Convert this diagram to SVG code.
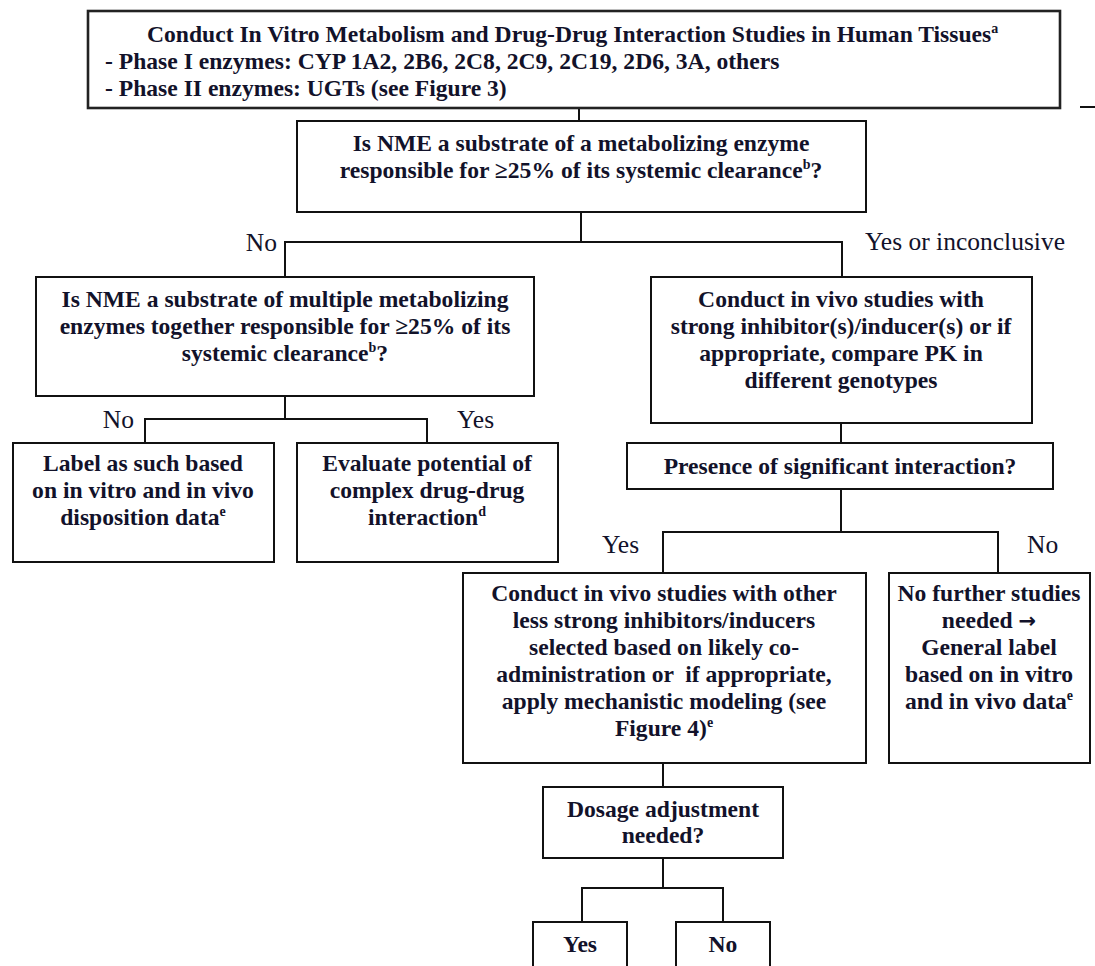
<svg xmlns="http://www.w3.org/2000/svg" width="1095" height="966" viewBox="0 0 1095 966">
<style>
text { font-family: "Liberation Serif", "Times New Roman", serif; font-size: 23.6px; fill: #12122a; }
.b { font-weight: bold; }
.c { text-anchor: middle; }
.lbl { font-size: 25.5px; }
.pre { white-space: pre; }
.arr { font-family: "DejaVu Sans", sans-serif; font-weight: bold; font-size: 21px; }
.box { fill: #fff; stroke: #111; stroke-width: 2; }
.box2 { fill: #fff; stroke: #222; stroke-width: 2.6; }
.conn { fill: none; stroke: #111; stroke-width: 2; }
.sup { font-size: 14px; }
</style>
<rect x="0" y="0" width="1095" height="966" fill="#fff"/>

<g id="connectors">
  <line class="conn" x1="1080" y1="107" x2="1095" y2="107"/>
  <line class="conn" x1="579" y1="108" x2="579" y2="121"/>
  <polyline class="conn" points="285,277 285,242 842,242 842,277"/>
  <line class="conn" x1="581" y1="212" x2="581" y2="242"/>
  <line class="conn" x1="285" y1="396" x2="285" y2="419"/>
  <polyline class="conn" points="145,443 145,419 427,419 427,443"/>
  <line class="conn" x1="841" y1="423" x2="841" y2="443"/>
  <line class="conn" x1="841" y1="489" x2="841" y2="532"/>
  <polyline class="conn" points="663,573 663,532 998,532 998,573"/>
  <line class="conn" x1="663" y1="763" x2="663" y2="787"/>
  <line class="conn" x1="663" y1="858" x2="663" y2="888"/>
  <polyline class="conn" points="582,922 582,888 723,888 723,922"/>
  <text class="lbl" x="277" y="251" text-anchor="end">No</text>
  <text class="lbl" x="865" y="250">Yes or inconclusive</text>
  <text class="lbl" x="134" y="428" text-anchor="end">No</text>
  <text class="lbl" x="457" y="428">Yes</text>
  <text class="lbl" x="602" y="553">Yes</text>
  <text class="lbl" x="1027" y="553">No</text>
</g>

<g id="n-start">
  <rect class="box2" x="88" y="11" width="972" height="97"/>
  <text class="b" x="147" y="42">Conduct In Vitro Metabolism and Drug-Drug Interaction Studies in Human Tissues<tspan class="sup" dy="-9">a</tspan></text>
  <text class="b" x="105" y="69">- Phase I enzymes: CYP 1A2, 2B6, 2C8, 2C9, 2C19, 2D6, 3A, others</text>
  <text class="b" x="105" y="96">- Phase II enzymes: UGTs (see Figure 3)</text>
</g>

<g id="n-q1">
  <rect class="box" x="297" y="121" width="569" height="91"/>
  <text class="b c" x="581" y="151">Is NME a substrate of a metabolizing enzyme</text>
  <text class="b c" x="581" y="178">responsible for ≥25% of its systemic clearance<tspan class="sup" dy="-9">b</tspan><tspan dy="9">?</tspan></text>
</g>

<g id="n-q2">
  <rect class="box" x="36" y="277" width="498" height="119"/>
  <text class="b c" x="285" y="307">Is NME a substrate of multiple metabolizing</text>
  <text class="b c" x="285" y="334">enzymes together responsible for ≥25% of its</text>
  <text class="b c" x="285" y="361">systemic clearance<tspan class="sup" dy="-9">b</tspan><tspan dy="9">?</tspan></text>
</g>

<g id="n-strong">
  <rect class="box" x="651" y="277" width="381" height="146"/>
  <text class="b c" x="841" y="307">Conduct in vivo studies with</text>
  <text class="b c" x="841" y="334">strong inhibitor(s)/inducer(s) or if</text>
  <text class="b c" x="841" y="361">appropriate, compare PK in</text>
  <text class="b c" x="841" y="388">different genotypes</text>
</g>

<g id="n-label">
  <rect class="box" x="13" y="443" width="261" height="119"/>
  <text class="b c" x="143" y="471">Label as such based</text>
  <text class="b c" x="143" y="498">on in vitro and in vivo</text>
  <text class="b c" x="143" y="525">disposition data<tspan class="sup" dy="-9">e</tspan></text>
</g>

<g id="n-evaluate">
  <rect class="box" x="297" y="443" width="261" height="119"/>
  <text class="b c" x="427" y="471">Evaluate potential of</text>
  <text class="b c" x="427" y="498">complex drug-drug</text>
  <text class="b c" x="427" y="525">interaction<tspan class="sup" dy="-9">d</tspan></text>
</g>

<g id="n-presence">
  <rect class="box" x="627" y="443" width="426" height="46"/>
  <text class="b c" x="840" y="474">Presence of significant interaction?</text>
</g>

<g id="n-other">
  <rect class="box" x="463" y="573" width="403" height="190"/>
  <text class="b c" x="664" y="601">Conduct in vivo studies with other</text>
  <text class="b c" x="664" y="628">less strong inhibitors/inducers</text>
  <text class="b c" x="664" y="655">selected based on likely co-</text>
  <text class="b c pre" x="664" y="682">administration or  if appropriate,</text>
  <text class="b c" x="664" y="709">apply mechanistic modeling (see</text>
  <text class="b c" x="664" y="736">Figure 4)<tspan class="sup" dy="-9">e</tspan></text>
</g>

<g id="n-nofurther">
  <rect class="box" x="889" y="573" width="201" height="190"/>
  <text class="b c" x="989" y="601">No further studies</text>
  <text class="b c" x="989" y="628">needed <tspan class="arr">→</tspan></text>
  <text class="b c" x="989" y="655">General label</text>
  <text class="b c" x="989" y="682">based on in vitro</text>
  <text class="b c" x="989" y="709">and in vivo data<tspan class="sup" dy="-9">e</tspan></text>
</g>

<g id="n-dosage">
  <rect class="box" x="543" y="787" width="240" height="71"/>
  <text class="b c" x="663" y="817">Dosage adjustment</text>
  <text class="b c" x="663" y="843">needed?</text>
</g>

<g id="n-yes">
  <rect class="box" x="533" y="922" width="94" height="60"/>
  <text class="b c" x="580" y="952">Yes</text>
</g>

<g id="n-no">
  <rect class="box" x="676" y="922" width="94" height="60"/>
  <text class="b c" x="723" y="952">No</text>
</g>
</svg>
